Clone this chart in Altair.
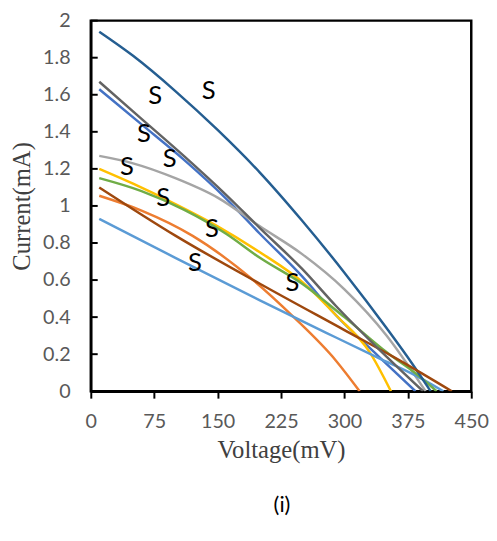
import altair as alt
import pandas as pd

# Series (Excel default palette order)
series_names = ["a1", "a2", "a3", "a4", "a5", "a6", "a7", "a8", "a9"]
series_colors = ["#4472C4", "#ED7D31", "#A5A5A5", "#FFC000", "#5B9BD5",
                 "#70AD47", "#255E91", "#9E480E", "#636363"]

v_a1 = [10, 60, 110, 160, 200, 250, 290, 340, 384]
i_a1 = [1.63, 1.44, 1.25, 1.04, 0.85, 0.62, 0.41, 0.19, 0.0]

v_a2 = [10, 60, 120, 192, 240, 290, 318]
i_a2 = [1.055, 0.975, 0.84, 0.60, 0.40, 0.165, 0.0]

v_a3 = [10, 50, 100, 150, 200, 250, 300, 350, 396]
i_a3 = [1.27, 1.23, 1.15, 1.045, 0.89, 0.74, 0.55, 0.30, 0.0]

v_a4 = [10, 50, 100, 150, 200, 250, 290, 330, 355]
i_a4 = [1.20, 1.12, 1.01, 0.89, 0.75, 0.59, 0.41, 0.21, 0.0]

v_a5 = [10, 100, 200, 290, 340, 386, 417]
i_a5 = [0.93, 0.72, 0.49, 0.29, 0.18, 0.08, 0.0]

v_a6 = [10, 60, 110, 160, 200, 250, 300, 350, 386, 409]
i_a6 = [1.15, 1.08, 0.98, 0.85, 0.72, 0.58, 0.40, 0.21, 0.09, 0.0]

v_a7 = [10, 50, 100, 150, 200, 250, 300, 350, 380, 402]
i_a7 = [1.94, 1.81, 1.62, 1.41, 1.18, 0.92, 0.64, 0.34, 0.15, 0.0]

v_a8 = [10, 100, 200, 300, 360, 427]
i_a8 = [1.10, 0.84, 0.58, 0.33, 0.18, 0.0]

v_a9 = [10, 60, 110, 160, 200, 250, 290, 340, 393]
i_a9 = [1.67, 1.47, 1.27, 1.06, 0.88, 0.66, 0.46, 0.23, 0.0]

# "S" annotations
s_volt = [139.5, 76.1, 63.0, 93.3, 42.9, 85.7, 143.4, 123.3, 238.6]
s_curr = [1.621, 1.594, 1.390, 1.251, 1.207, 1.044, 0.877, 0.692, 0.583]
s_text = ["S"] * 9

x_ticks = [0, 75, 150, 225, 300, 375, 450]
y_ticks = [0, 0.2, 0.4, 0.6, 0.8, 1, 1.2, 1.4, 1.6, 1.8, 2]

caption = ["(i)"]

all_v = [v_a1, v_a2, v_a3, v_a4, v_a5, v_a6, v_a7, v_a8, v_a9]
all_i = [i_a1, i_a2, i_a3, i_a4, i_a5, i_a6, i_a7, i_a8, i_a9]
rows = []
for name, vs, cs in zip(series_names, all_v, all_i):
    for k, (v, c) in enumerate(zip(vs, cs)):
        rows.append({"s": name, "v": v, "c": c, "o": k})
df = pd.DataFrame(rows)

xscale = alt.Scale(domain=[0, 450], nice=False, zero=False)
yscale = alt.Scale(domain=[0, 2], nice=False, zero=False)

x_axis = alt.Axis(values=x_ticks, title="Voltage(mV)", labelOverlap=False)
y_axis = alt.Axis(values=y_ticks, title="Current(mA)", labelOverlap=False,
                  format="~g", titleX=-70, titleBaseline="middle")

lines = alt.Chart(df).mark_line(strokeWidth=2.5, interpolate="monotone", clip=True).encode(
    x=alt.X("v:Q", scale=xscale, axis=x_axis),
    y=alt.Y("c:Q", scale=yscale, axis=y_axis),
    color=alt.Color("s:N", scale=alt.Scale(domain=series_names, range=series_colors), legend=None),
    order="o:Q",
)

ytick_df = pd.DataFrame({"t": y_ticks})
yticks = alt.Chart(ytick_df).mark_rule(color="black", strokeWidth=2).encode(
    y=alt.Y("t:Q", scale=yscale, axis=y_axis),
    x=alt.value(0),
    x2=alt.value(7),
)

s_df = pd.DataFrame({"v": s_volt, "c": s_curr, "t": s_text})
labels = alt.Chart(s_df).mark_text(font="Lato", fontSize=26, color="black",
                                   align="center", baseline="middle").encode(
    x=alt.X("v:Q", scale=xscale, axis=x_axis),
    y=alt.Y("c:Q", scale=yscale, axis=y_axis),
    text="t:N",
)

cap_df = pd.DataFrame({"t": caption})
cap = alt.Chart(cap_df).mark_text(font="Lato", fontSize=22, color="black",
                                  align="center", baseline="middle").encode(
    x=alt.value(194),
    y=alt.value(492),
    text="t:N",
)

chart = alt.layer(lines, yticks, labels, cap).properties(
    width=386, height=376,
    autosize=alt.AutoSizeParams(type="none"),
    padding={"left": 84, "top": 9, "right": 18, "bottom": 140},
).configure_view(
    stroke="black", strokeWidth=2.5
).configure_axis(
    grid=False, domainColor="black", domainWidth=2.5,
    labelFont="Lato", labelFontSize=20, labelColor="#595959",
    labelFlush=False, labelOverlap=False,
    titleFont="Liberation Serif", titleFontSize=25,
    titleFontWeight="normal", titleColor="#404040",
).configure_axisX(
    tickSize=7, tickWidth=2, tickColor="black", labelPadding=14, titlePadding=6,
).configure_axisY(
    ticks=False, labelPadding=21,
)

chart.save("out.html", embed_options={"renderer": "svg", "actions": False})
